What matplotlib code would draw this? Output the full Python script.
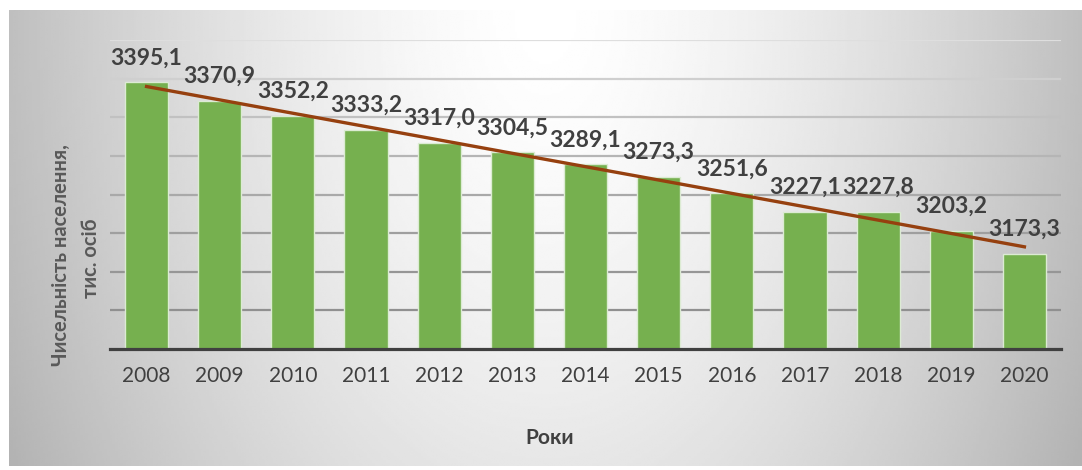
import numpy as np
import matplotlib
matplotlib.use("Agg")
import matplotlib.pyplot as plt

years = ["2008", "2009", "2010", "2011", "2012", "2013", "2014",
         "2015", "2016", "2017", "2018", "2019", "2020"]
population = [3395.1, 3370.9, 3352.2, 3333.2, 3317.0, 3304.5, 3289.1,
              3273.3, 3251.6, 3227.1, 3227.8, 3203.2, 3173.3]
y_min, y_max, y_step = 3050, 3450, 50

plt.rcParams["font.family"] = ["Lato", "DejaVu Sans"]

W, H = 1082, 470
fig = plt.figure(figsize=(W / 100, H / 100), dpi=100)
fig.patch.set_facecolor("white")

# chart area background with a soft grey gradient
bg = fig.add_axes([9 / W, 4 / H, (W - 9) / W, (466 - 10) / H])
xx, yy = np.meshgrid(np.linspace(-1, 1, 400), np.linspace(0, 1, 200))
d = np.sqrt(xx ** 2 + (yy / 1.9) ** 2)
shade = 1 - 0.25 * np.clip(d, 0, 1.3) ** 1.5
bg.imshow(shade, cmap="gray", vmin=0, vmax=1, aspect="auto", origin="upper",
          extent=[0, 1, 0, 1], interpolation="bilinear")
bg.set_axis_off()

ax = fig.add_axes([110 / W, (H - 349) / H, (1061 - 110) / W, (349 - 40) / H])
ax.patch.set_alpha(0)

x = np.arange(len(years))
ax.set_ylim(y_min, y_max)
ax.set_xlim(-0.5, len(years) - 0.5)

# gridlines, lighter near the top like the reference
levels = np.arange(y_min + y_step, y_max + 1, y_step)
for lv in levels:
    t = (lv - y_min) / (y_max - y_min)
    g = 0.55 + 0.32 * t ** 1.5
    ax.axhline(lv, color=(g, g, g), lw=1.6, zorder=1)

ax.bar(x, population, width=0.59, bottom=0, color="#76b04f",
       edgecolor="#dcebd3", linewidth=1.0, zorder=2)

for xi, v in zip(x, population):
    ax.annotate(f"{v:.1f}".replace(".", ","), (xi, v), xytext=(0, 13),
                textcoords="offset points", ha="center", va="baseline",
                fontsize=16.5, fontweight="bold", color="#404040", zorder=4)

# linear trend line
k, b = np.polyfit(x, population, 1)
ax.plot(x, k * x + b, color="#96400f", lw=2.4, zorder=3)

for s in ["top", "right", "left"]:
    ax.spines[s].set_visible(False)
ax.spines["bottom"].set_color("#404040")
ax.spines["bottom"].set_linewidth(2.3)
ax.spines["bottom"].set_zorder(5)
ax.set_yticks([])
ax.set_xticks(x)
ax.set_xticklabels(years, fontsize=15, color="#404040")
ax.tick_params(axis="x", length=0, pad=12)

fig.text(61 / W, 1 - 255 / H, "Чисельність населення,", rotation=90,
         ha="center", va="center", fontsize=14.5, fontweight="bold", color="#595959")
fig.text(91 / W, 1 - 258 / H, "тис. осіб", rotation=90,
         ha="center", va="center", fontsize=14.5, fontweight="bold", color="#595959")
fig.text(550 / W, 1 - 438 / H, "Роки", ha="center", va="center",
         fontsize=15, fontweight="bold", color="#404040")

fig.savefig("out.png", dpi=100)
